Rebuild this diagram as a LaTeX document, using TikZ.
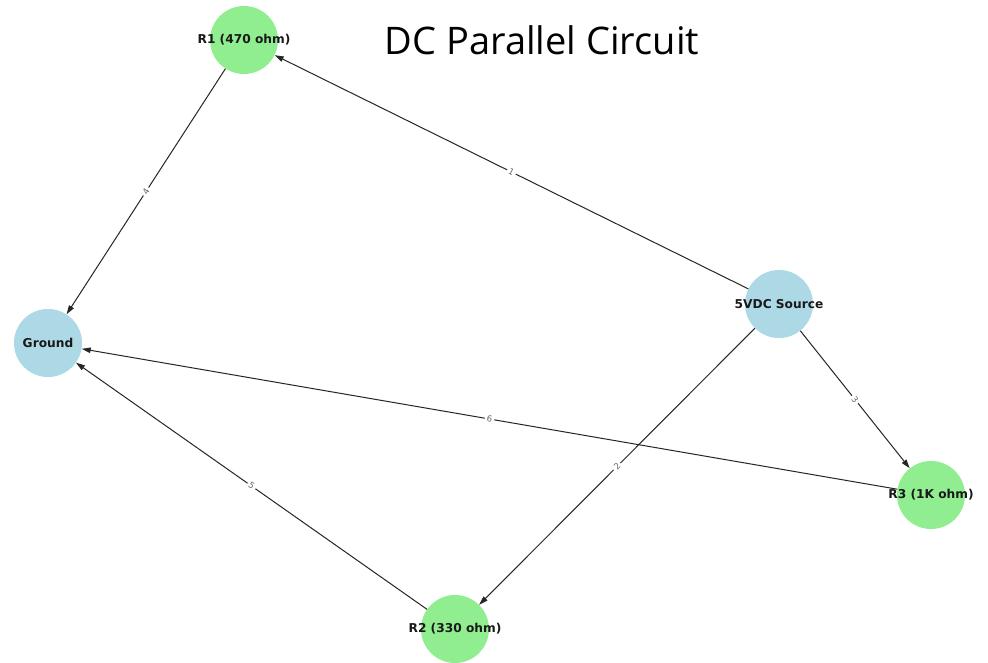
\documentclass[tikz,border=0pt]{standalone}
\usepackage{fontspec}
\setmainfont{DejaVu Sans}
\newfontfamily\titlefont{Open Sans}
\usetikzlibrary{arrows.meta}
\definecolor{greennode}{HTML}{90EE90}
\definecolor{bluenode}{HTML}{ADD8E6}
\tikzset{
  vertex/.style={circle, minimum size=68pt, inner sep=0pt, draw=none},
  resistor/.style={vertex, fill=greennode},
  terminal/.style={vertex, fill=bluenode},
  vtext/.style={font=\bfseries\fontsize{12.2}{14}\selectfont, text=black!90},
  wire/.style={draw=black!85, line width=1pt, -{Triangle[length=9pt,width=5.5pt]}},
  elabel/.style={midway, sloped, fill=white, inner sep=2pt, rounded corners=2pt,
    text=black!60, font=\fontsize{8.5}{9}\selectfont}
}
\begin{document}
\begin{tikzpicture}[x=1pt, y=-1pt]
  \useasboundingbox (0,0) rectangle (988,662);
  \fill[white] (0,0) rectangle (988,662);

  % circles
  \node[resistor] (r1) at (244,40) {};
  \node[terminal] (src) at (779,304) {};
  \node[terminal] (gnd) at (48,343) {};
  \node[resistor] (r3) at (931,495) {};
  \node[resistor] (r2) at (455,629) {};

  % connectors
  \draw[wire] (src) -- node[elabel] {1} (r1);
  \draw[wire] (src) -- node[elabel] {2} (r2);
  \draw[wire] (src) -- node[elabel] {3} (r3);
  \draw[wire] (r1) -- node[elabel] {4} (gnd);
  \draw[wire] (r2) -- node[elabel] {5} (gnd);
  \draw[wire] (r3) -- node[elabel] {6} (gnd);

  % names on top of the connectors
  \node[vtext] (t1) at (r1) {R1 (470 ohm)};
  \node[vtext] (t2) at (r2) {R2 (330 ohm)};
  \node[vtext] (t3) at (r3) {R3 (1K ohm)};
  \node[vtext] (ts) at (src) {5VDC Source};
  \node[vtext] (tg) at (gnd) {Ground};

  % title
  \node[font=\titlefont\fontsize{38}{42}\selectfont, text=black] (title) at (542,40) {DC Parallel Circuit};
\end{tikzpicture}
\end{document}
